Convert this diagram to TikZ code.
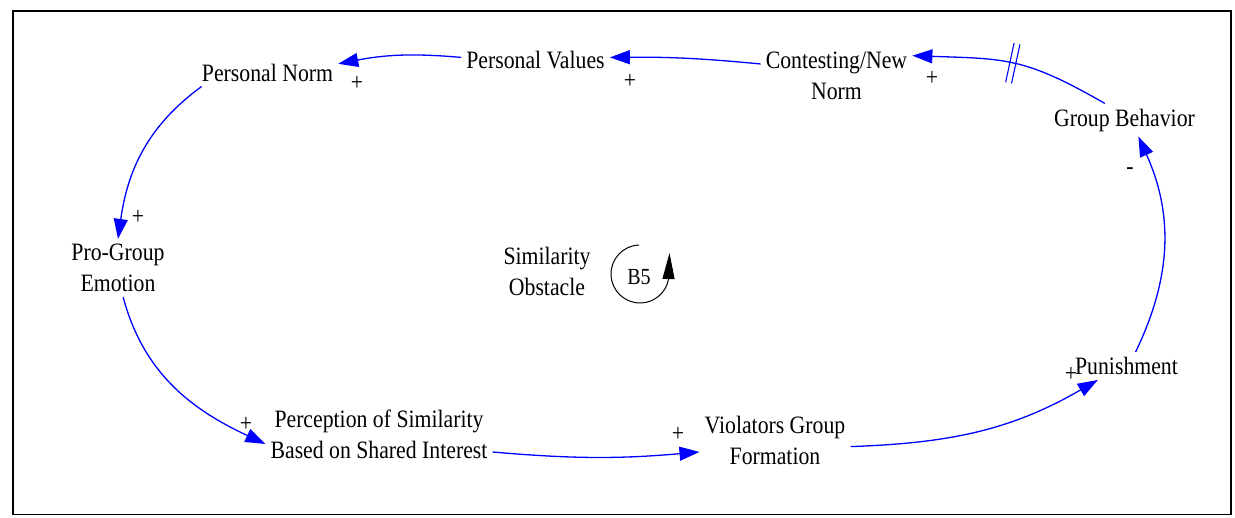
\documentclass[tikz,border=0pt]{standalone}
\usepackage{fontspec}
\setmainfont{Liberation Serif}[FakeStretch=0.87]
\usetikzlibrary{arrows.meta,decorations.markings}
\begin{document}
\begin{tikzpicture}[x=1pt,y=1pt,
  txt/.style={font=\fontsize{25}{31}\selectfont, align=center, inner sep=5pt},
  pol/.style={font=\fontsize{25}{31}\selectfont, inner sep=0pt},
  link/.style={draw=blue, line width=1.3pt, -{Triangle[length=20pt,width=14pt]}},
  delaymark/.style={decoration={markings, mark=at position 0.5 with {
      \draw[-, blue, line width=1.1pt] (-3pt,-20pt) -- (-3pt,20pt);
      \draw[-, blue, line width=1.1pt] (3pt,-20pt) -- (3pt,20pt);}},
    postaction={decorate}}
]
\useasboundingbox (0,0) rectangle (1235,-518);
% outer frame
\draw[line width=1.5pt] (13,-11) rectangle (1231,-514.5);

% variables
\node[txt] (pn)  at (267.5,-72.5) {Personal Norm};
\node[txt] (pv)  at (535.5,-60)   {Personal Values};
\node[txt] (cnn) at (836.5,-76)   {Contesting/New\\Norm};
\node[txt] (gb)  at (1124.5,-120) {Group Behavior};
\node[txt] (pge) at (118,-268)    {Pro-Group\\Emotion};
\node[txt] (so)  at (547,-271)    {Similarity\\Obstacle};
\node[txt] (psi) at (379,-434)    {Perception of Similarity\\Based on Shared Interest};
\node[txt] (vgf) at (775,-440)    {Violators Group\\Formation};
\node[txt] (pun) at (1126.5,-366) {Punishment};

% causal links
\draw[link, delaymark] (gb.140) to[out=150,in=-2,looseness=1.2] (cnn.15);
\draw[link] (cnn.171) to[bend right=3] (pv.2);
\draw[link] (pv.178) to[bend right=8] (pn.7);
\draw[link] (pn.192) to[out=216,in=82] (pge.north);
\draw[link] (pge.-80) to[out=-75,in=155] (psi.185);
\draw[link] (psi.-9) to[bend right=5] (vgf.189);
\draw[link] (vgf.-5) to[out=2,in=210] (pun.206);
\draw[link] (pun.57) to[bend right=25] (gb.-50);

% link polarities
\node[pol] (s1) at (932,-78)    {+};
\node[pol] (s2) at (630,-81)    {+};
\node[pol] (s3) at (357,-83)    {+};
\node[pol] (s4) at (138,-217)   {+};
\node[pol] (s5) at (246,-424)   {+};
\node[pol] (s6) at (678,-434)   {+};
\node[pol] (s7) at (1071,-374)  {+};
\node[pol] (s8) at (1130,-171.5) {-};

% loop identifier
\node[pol, font=\fontsize{23}{28}\selectfont] (b5) at (639,-277) {B5};
\draw[line width=1pt, -{Triangle[length=26pt,width=12pt]}]
  (640,-274) ++(92:29) arc[start angle=92, end angle=350, radius=29] -- (669.5,-253);
\end{tikzpicture}
\end{document}
